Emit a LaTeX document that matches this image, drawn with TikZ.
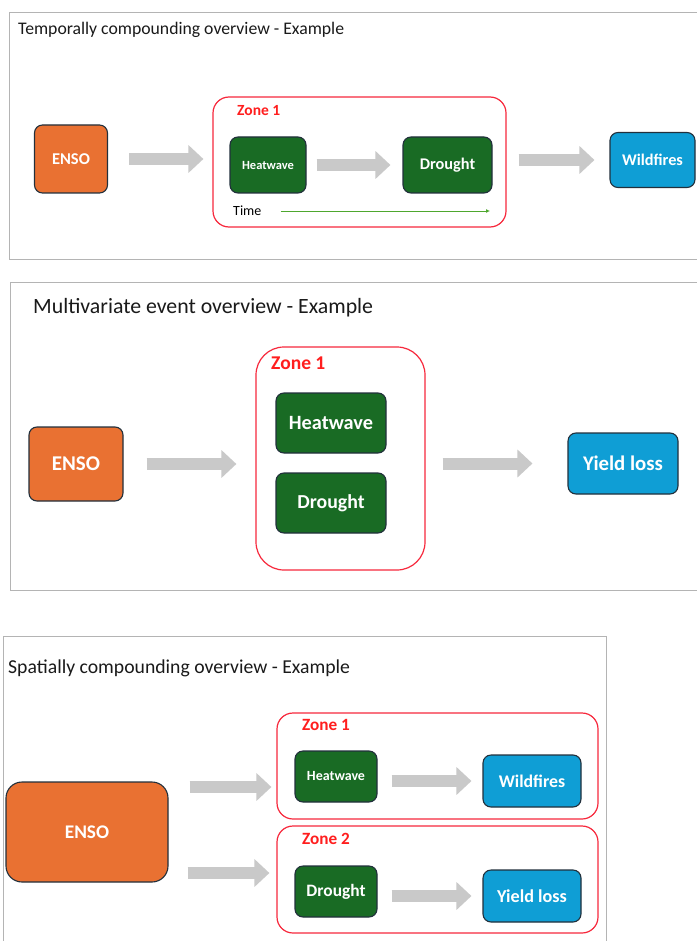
\documentclass[tikz,border=0pt]{standalone}
\usepackage{fontspec}
\setmainfont{Carlito}
\usepackage{tikz}
\usetikzlibrary{arrows.meta}

\definecolor{ensoorange}{HTML}{E97132}
\definecolor{eventgreen}{HTML}{196B24}
\definecolor{impactblue}{HTML}{0F9ED5}
\definecolor{boxline}{HTML}{22303C}
\definecolor{zonered}{HTML}{F7283C}
\definecolor{zonetext}{HTML}{FF1E1E}
\definecolor{framegray}{HTML}{B4B4B4}
\definecolor{arrowgray}{HTML}{C9C9C9}
\definecolor{timegreen}{HTML}{4EA72E}
\definecolor{titleblack}{HTML}{1A1A1A}

\newcommand{\setfs}[1]{\fontsize{#1}{#1}\selectfont}

\begin{document}
\begin{tikzpicture}[x=1pt,y=-1pt,
   frame/.style={draw=framegray,line width=0.8pt},
   title/.style={anchor=base west,text=titleblack,inner sep=0pt},
   box/.style={draw=boxline,line width=1.1pt,rounded corners=8pt,text=white,inner sep=0pt,execute at begin node=\bfseries},
   enso/.style={box,fill=ensoorange},
   event/.style={box,fill=eventgreen},
   impact/.style={box,fill=impactblue},
   zone/.style={draw=zonered,line width=1.2pt,rounded corners=16pt,inner sep=0pt},
   zonelabel/.style={anchor=west,text=zonetext,inner sep=0pt,execute at begin node=\bfseries},
   bigarrow/.style={draw=arrowgray,line width=12pt,-{Triangle[length=15pt,width=27pt]}},
   timeline/.style={draw=timegreen,line width=0.9pt,-{Latex[length=4pt,width=4pt]}}]
   \useasboundingbox[fill=white] (0,0) rectangle (697,941);

   \draw[frame] (697,12) -- (9,12) -- (9,259) -- (697,259);
   \node[title,font=\setfs{17.7}] (title1) at (18,35) {Temporally compounding overview - Example};
   \node[enso,minimum width=73pt,minimum height=68pt,font=\setfs{16.5}] (enso1) at (71,159) {ENSO};
   \node[zone,minimum width=293pt,minimum height=130pt] (zone1a) at (359.5,162) {};
   \node[zonelabel,font=\setfs{15.5}] (zonelab1a) at (237,111) {Zone 1};
   \node[event,minimum width=76pt,minimum height=56pt,font=\setfs{12.5}] (heat1) at (268,165) {Heatwave};
   \node[event,minimum width=89pt,minimum height=56pt,font=\setfs{16.3}] (drought1) at (447.5,165) {Drought};
   \node[anchor=west,inner sep=0pt,font=\setfs{14}] (time1) at (233,211) {Time};
   \coordinate (timeend1) at (490,211);
   \node[impact,minimum width=85pt,minimum height=55pt,font=\setfs{16.3}] (wild1) at (652.5,160) {Wildfires};
   \draw[bigarrow,shorten <=21pt,shorten >=9pt] (enso1.east) -- (enso1.east -| zone1a.west);
   \draw[bigarrow,shorten <=10pt,shorten >=12pt] (heat1.east) -- (drought1.west);
   \draw[bigarrow,shorten <=12pt,shorten >=15pt] (zone1a.east |- wild1.west) -- (wild1.west);
   \draw[timeline,shorten <=19pt] (time1.east) -- (timeend1);

   \draw[frame] (697,282) -- (10,282) -- (10,590) -- (697,590);
   \node[title,font=\setfs{21.8}] (title2) at (33,313) {Multivariate event overview - Example};
   \node[enso,minimum width=94pt,minimum height=74pt,font=\setfs{21}] (enso2) at (76,464) {ENSO};
   \node[zone,rounded corners=28pt,minimum width=169pt,minimum height=223pt] (zone2) at (340.5,458.5) {};
   \node[zonelabel,font=\setfs{19.5}] (zonelab2) at (271,363) {Zone 1};
   \node[event,minimum width=110pt,minimum height=60pt,font=\setfs{20.3}] (heat2) at (331,423) {Heatwave};
   \node[event,minimum width=110pt,minimum height=60pt,font=\setfs{19.8}] (drought2) at (331,503) {Drought};
   \node[impact,minimum width=110pt,minimum height=61pt,font=\setfs{20.8}] (yield2) at (623,463.5) {Yield loss};
   \draw[bigarrow,shorten <=23pt,shorten >=19pt] (enso2.east) -- (enso2.east -| zone2.west);
   \draw[bigarrow,shorten <=17pt,shorten >=35pt] (zone2.east |- yield2.west) -- (yield2.west);

   \draw[frame] (606,941) -- (606,636) -- (3,636) -- (3,941);
   \node[title,font=\setfs{19.7}] (title3) at (8,673) {Spatially compounding overview - Example};
   \node[enso,rounded corners=16pt,minimum width=162pt,minimum height=100pt,font=\setfs{19.3}] (enso3) at (87,832) {ENSO};
   \node[zone,minimum width=321pt,minimum height=106pt] (zone3a) at (437.5,766) {};
   \node[zone,minimum width=321pt,minimum height=107pt] (zone3b) at (437.5,879.5) {};
   \node[zonelabel,font=\setfs{17.2}] (zonelab3a) at (302,725) {Zone 1};
   \node[zonelabel,font=\setfs{17.2}] (zonelab3b) at (302,839) {Zone 2};
   \node[event,minimum width=82pt,minimum height=51pt,font=\setfs{14}] (heat3) at (336,776.5) {Heatwave};
   \node[impact,minimum width=98pt,minimum height=52pt,font=\setfs{17.8}] (wild3) at (532,781) {Wildfires};
   \node[event,minimum width=82pt,minimum height=51pt,font=\setfs{17.4}] (drought3) at (336,891.5) {Drought};
   \node[impact,minimum width=98pt,minimum height=52pt,font=\setfs{18.2}] (yield3) at (532,896) {Yield loss};
   \coordinate (start3a) at ([yshift=45pt]enso3.east);
   \coordinate (start3b) at ([yshift=-41pt]enso3.east);
   \draw[bigarrow,shorten <=21pt,shorten >=5pt] (start3a) -- (start3a -| zone3a.west);
   \draw[bigarrow,shorten <=19pt,shorten >=7pt] (start3b) -- (start3b -| zone3b.west);
   \draw[bigarrow,shorten <=14pt,shorten >=11pt] (heat3.east |- wild3.west) -- (wild3.west);
   \draw[bigarrow,shorten <=14pt,shorten >=11pt] (drought3.east |- yield3.west) -- (yield3.west);
\end{tikzpicture}
\end{document}
